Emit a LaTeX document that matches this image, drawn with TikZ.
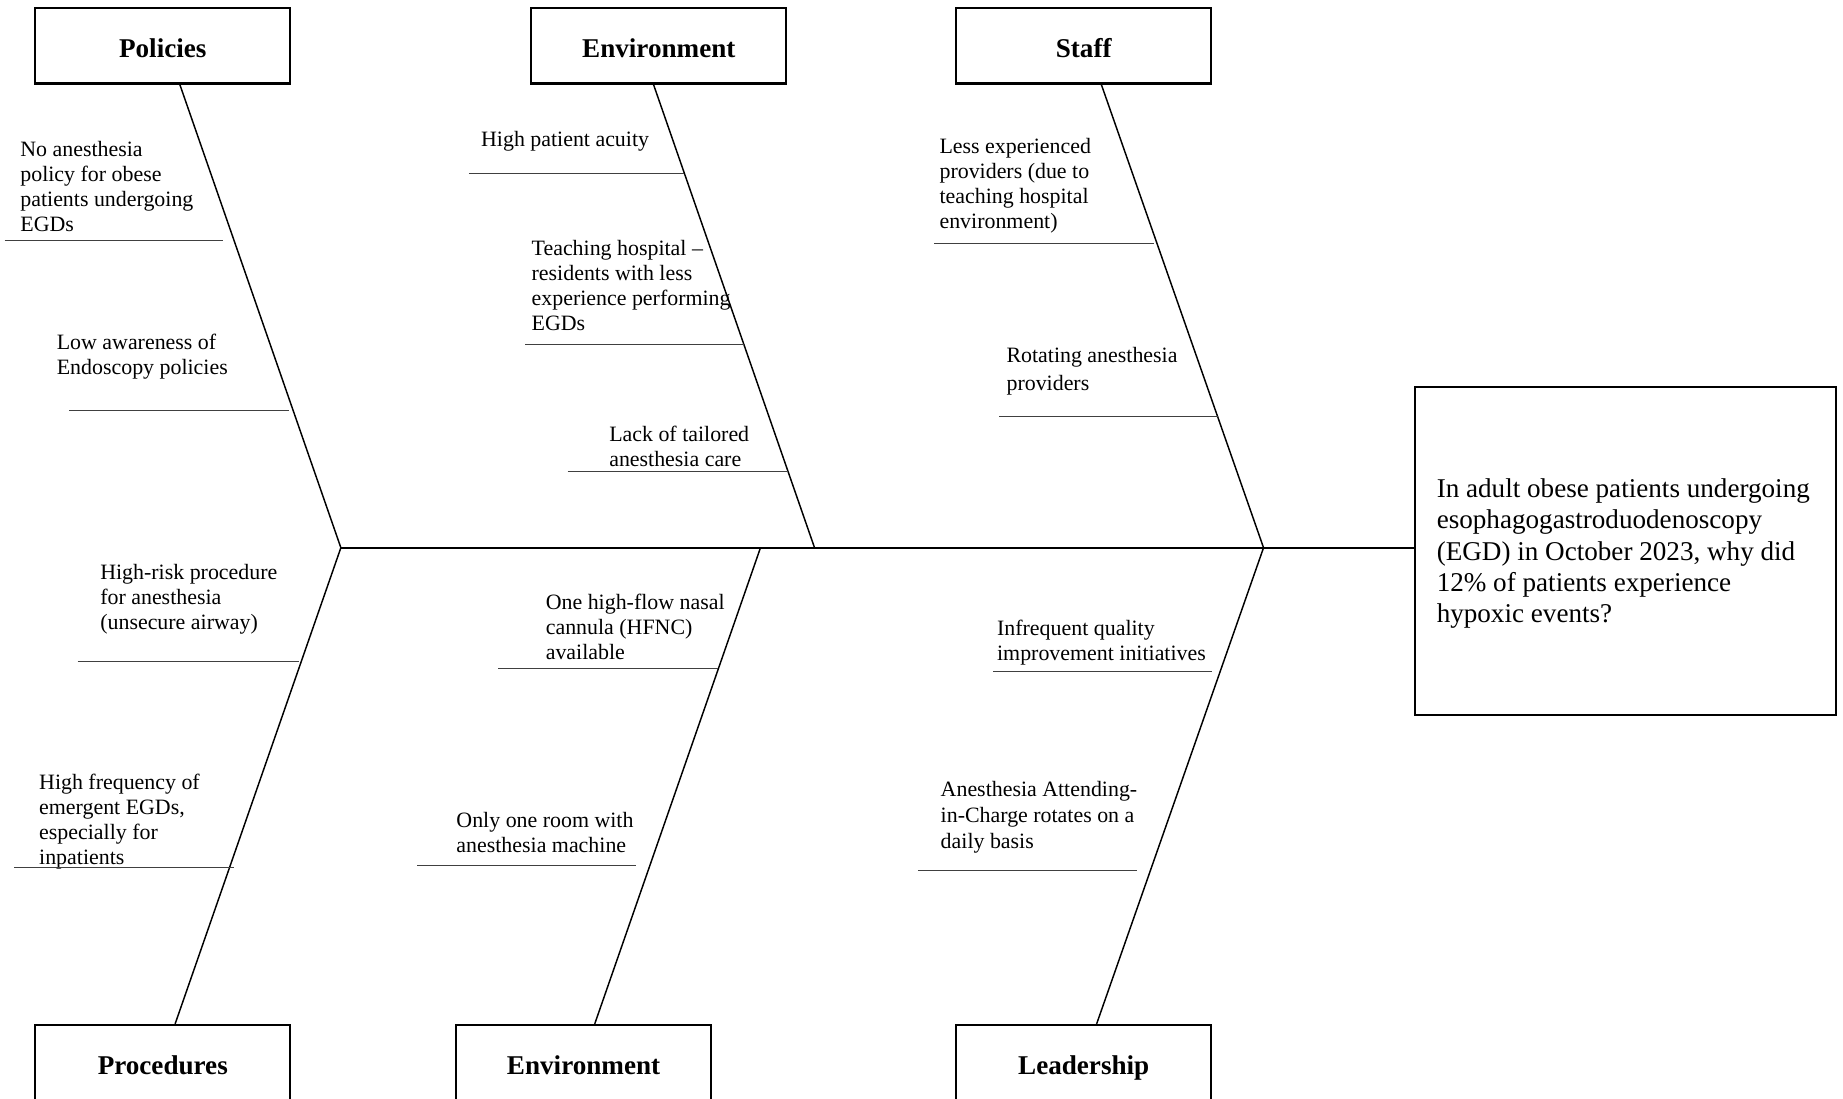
\documentclass[tikz,border=0pt]{standalone}
\usepackage{fontspec}
\setmainfont{Liberation Serif}
\usetikzlibrary{calc}

\begin{document}
\begin{tikzpicture}[x=0.5634pt,y=-0.5634pt,
  cat/.style={draw,line width=1pt,minimum width=122.3pt,minimum height=36.1pt,
    text height=11pt,text depth=0pt,font=\fontsize{13}{15}\selectfont\bfseries},
  cause/.style={anchor=north west,inner sep=0pt,align=left,
    font=\fontsize{10.5}{12}\selectfont},
  bone/.style={line width=0.7pt},
  sub/.style={line width=0.5pt,black!75}]
\useasboundingbox (0,0) rectangle (1568,935);
\clip (0,0) rectangle (1568,935);

% category boxes
\path node (pol) at (138.5,39) [cat] {Policies}
node (envt) at (560.5,39) [cat] {Environment}
node (stf) at (922,39) [cat] {Staff}
node (proc) at (138.5,904) [cat] {Procedures}
node (envb) at (496.5,904) [cat] {Environment}
node (lead) at (922,904) [cat] {Leadership};

% problem statement
\node (prob) at (1383,468.5) [draw,line width=1pt,minimum width=201.7pt,minimum height=157.2pt] {};
\node (probtxt) at (1222,407) [cause,font=\fontsize{13}{15}\selectfont]
  {In adult obese patients undergoing\\esophagogastroduodenoscopy\\(EGD) in October 2023, why did\\12\% of patients experience\\hypoxic events?};

% spine and bones
\coordinate (j1) at (290,466);
\coordinate (j2) at (693,466);
\coordinate (j3) at (647,466);
\coordinate (j4) at (1075,466);
\draw[line width=1pt] (j1) -- (prob.west |- j1);
\draw[bone] ($(pol.south)+(14.5,0)$) -- (j1) -- ($(proc.north)+(10.5,0)$);
\draw[bone] ($(envt.south)+(-4.5,0)$) -- (j2);
\draw[bone] (j3) -- ($(envb.north)+(9.5,0)$);
\draw[bone] ($(stf.south)+(15,0)$) -- (j4) -- ($(lead.north)+(11,0)$);

% causes
\path node (c11) at (17,120) [cause] {No anesthesia\\policy for obese\\patients undergoing\\EGDs}
node (c12) at (48,284) [cause] {Low awareness of\\Endoscopy policies}
node (c21) at (409,111) [cause] {High patient acuity}
node (c22) at (452,204) [cause] {Teaching hospital –\\residents with less\\experience performing\\EGDs}
node (c23) at (518,362) [cause] {Lack of tailored\\anesthesia care}
node (c31) at (799,117) [cause] {Less experienced\\providers (due to\\teaching hospital\\environment)}
node (c32) at (856,295) [cause] {Rotating anesthesia\\[1.5pt]providers}
node (c41) at (85,480) [cause] {High-risk procedure\\for anesthesia\\(unsecure airway)}
node (c42) at (33,658) [cause] {High frequency of\\emergent EGDs,\\especially for\\inpatients}
node (c51) at (464,505) [cause] {One high-flow nasal\\cannula (HFNC)\\available}
node (c52) at (388,691) [cause] {Only one room with\\anesthesia machine}
node (c61) at (848,527) [cause] {Infrequent quality\\improvement initiatives}
node (c62) at (800,664) [cause] {Anesthesia Attending-\\[0.5pt]in-Charge rotates on a\\[0.5pt]daily basis};

% underlines
\draw[sub] (4,205) -- (190,205);
\draw[sub] (59,349) -- (246,349);
\draw[sub] (399,148) -- (582,148);
\draw[sub] (447,293) -- (633,293);
\draw[sub] (483,401) -- (670,401);
\draw[sub] (795,207) -- (982,207);
\draw[sub] (850,354) -- (1036,354);
\draw[sub] (66,563) -- (254,563);
\draw[sub] (12,738) -- (199,738);
\draw[sub] (424,569) -- (611,569);
\draw[sub] (355,736) -- (541,736);
\draw[sub] (845,571) -- (1031,571);
\draw[sub] (781,741) -- (967,741);
\end{tikzpicture}
\end{document}
